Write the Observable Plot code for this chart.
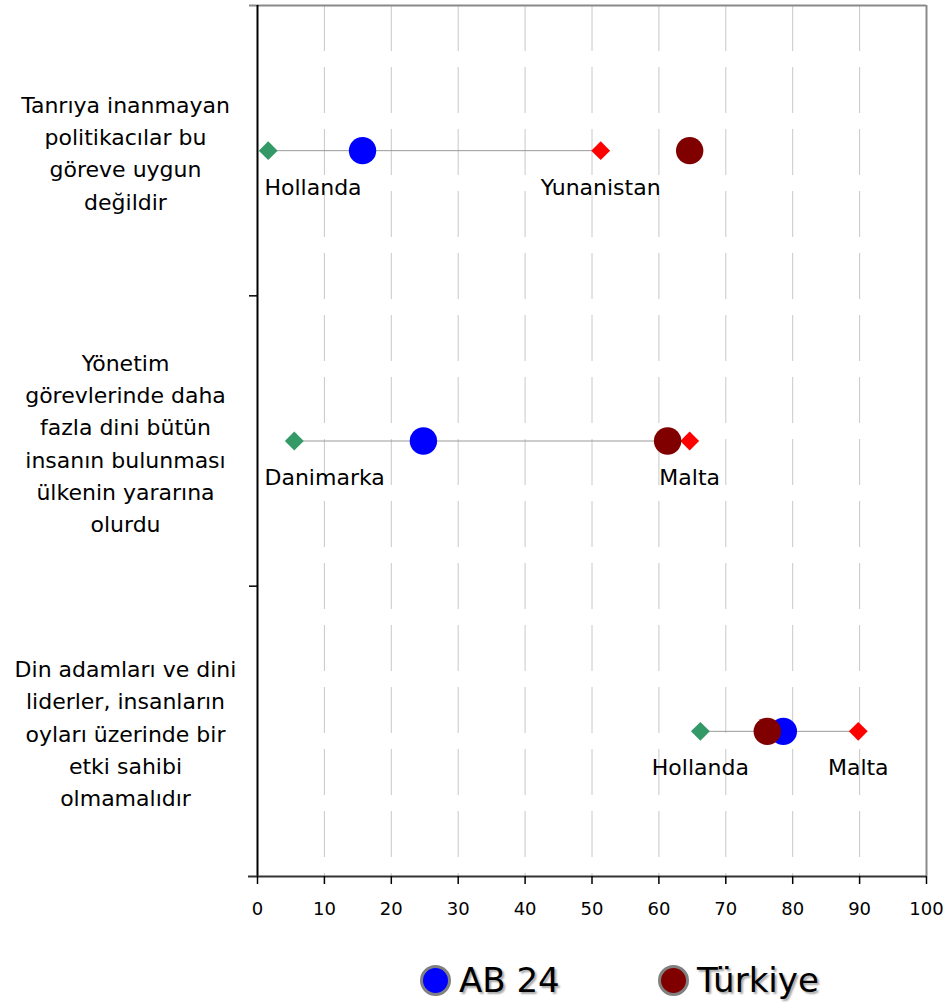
<!DOCTYPE html>
<html>
<head>
<meta charset="utf-8">
<script src="https://cdn.jsdelivr.net/npm/d3@7"></script>
<script src="https://cdn.jsdelivr.net/npm/@observablehq/plot@0.6"></script>
<style>
  body { margin: 0; background: #fff; font-family: "DejaVu Sans", sans-serif; }
  #legend { position: relative; width: 943px; height: 60px; }
  .item { position: absolute; top: 19px; display: flex; align-items: center; height: 32px; }
  .sw { box-sizing: border-box; width: 31px; height: 31px; border-radius: 50%; border: 3px solid #808080; margin-right: 8px; }
  .lab { font-size: 34px; color: #000; text-shadow: 2px 2px 2px rgba(0,0,0,0.35); line-height: 32px; }
</style>
</head>
<body>
<div id="chart"></div>
<div id="legend"></div>
<script>
const categories = [
  "Tanrıya inanmayan\npolitikacılar bu\ngöreve uygun\ndeğildir",
  "Yönetim\ngörevlerinde daha\nfazla dini bütün\ninsanın bulunması\nülkenin yararına\nolurdu",
  "Din adamları ve dini\nliderler, insanların\noyları üzerinde bir\netki sahibi\nolmamalıdır"
];
const ab24 = [15.7, 24.8, 78.6];
const turkiye = [64.6, 61.3, 76.2];
const minValues = [1.6, 5.5, 66.2];
const minCountries = ["Hollanda", "Danimarka", "Hollanda"];
const maxValues = [51.3, 64.6, 89.8];
const maxCountries = ["Yunanistan", "Malta", "Malta"];
const xTicks = [0, 10, 20, 30, 40, 50, 60, 70, 80, 90, 100];
const gridTicks = [10, 20, 30, 40, 50, 60, 70, 80, 90];
const legendNames = ["AB 24", "Türkiye"];
const colors = {ab: "#0000ff", tr: "#800000", min: "#339966", max: "#ff0000"};

const rows = categories.map((c, i) => ({
  cat: c, pos: i + 0.5,
  ab: ab24[i], tr: turkiye[i],
  min: minValues[i], minC: minCountries[i],
  max: maxValues[i], maxC: maxCountries[i]
}));

const labels = [];
rows.forEach(r => {
  const nearLeft = r.min < 10;
  labels.push({x: nearLeft ? 0 : r.min, pos: r.pos, text: r.minC, anchor: nearLeft ? "start" : "middle"});
  labels.push({x: r.max, pos: r.pos, text: r.maxC, anchor: "middle"});
});

const chart = Plot.plot({
  width: 943,
  height: 945,
  marginLeft: 257,
  marginRight: 17,
  marginTop: 5,
  marginBottom: 69,
  style: {fontFamily: "DejaVu Sans", fontSize: "22px", color: "#000", background: "#fff"},
  x: {domain: [0, 100], label: null},
  y: {domain: [0, 3], reverse: true, label: null},
  marks: [
    Plot.ruleX(gridTicks, {stroke: "#c8c8c8", strokeWidth: 1, strokeDasharray: "46,16"}),
    Plot.ruleY([0], {stroke: "#8a8a8a", strokeWidth: 2, insetLeft: -8}),
    Plot.ruleX([100], {stroke: "#8a8a8a", strokeWidth: 2}),
    Plot.ruleX([0], {stroke: "#000", strokeWidth: 2}),
    Plot.ruleY([3], {stroke: "#333", strokeWidth: 2, insetLeft: -9}),
    Plot.axisY({ticks: [1, 2], tickSize: 8, tickFormat: () => "", label: null, stroke: "#000", strokeWidth: 1.5}),
    Plot.axisX({ticks: xTicks, tickSize: 8, tickPadding: 18, fontSize: 18, label: null, stroke: "#000", strokeWidth: 1.5, tickFormat: d => String(d)}),
    Plot.text(rows, {x: () => 0, y: "pos", text: "cat", textAnchor: "middle", dx: -132, lineHeight: 1.47, fontSize: 22, fill: "#000"}),
    Plot.link(rows, {x1: "min", x2: "max", y1: "pos", y2: "pos", stroke: "#9a9a9a", strokeWidth: 1}),
    Plot.dot(rows, {x: "min", y: "pos", symbol: "diamond2", r: 8.5, fill: colors.min, stroke: "none"}),
    Plot.dot(rows, {x: "max", y: "pos", symbol: "diamond2", r: 8.5, fill: colors.max, stroke: "none"}),
    Plot.dot(rows, {x: "ab", y: "pos", r: 13.7, fill: colors.ab, stroke: "none"}),
    Plot.dot(rows, {x: "tr", y: "pos", r: 13.7, fill: colors.tr, stroke: "none"}),
    Plot.text(labels.filter(d => d.anchor === "start"), {x: "x", y: "pos", text: "text", textAnchor: "start", dx: 7, dy: 37, fontSize: 22, fill: "#000"}),
    Plot.text(labels.filter(d => d.anchor === "middle"), {x: "x", y: "pos", text: "text", textAnchor: "middle", dy: 37, fontSize: 22, fill: "#000"})
  ]
});
document.getElementById("chart").appendChild(chart);

const legend = document.getElementById("legend");
const lefts = [420, 658];
const sw = [colors.ab, colors.tr];
legendNames.forEach((n, i) => {
  const it = document.createElement("div");
  it.className = "item";
  it.style.left = lefts[i] + "px";
  const s = document.createElement("div");
  s.className = "sw";
  s.style.background = sw[i];
  const t = document.createElement("span");
  t.className = "lab";
  t.textContent = n;
  it.appendChild(s);
  it.appendChild(t);
  legend.appendChild(it);
});
</script>
</body>
</html>
